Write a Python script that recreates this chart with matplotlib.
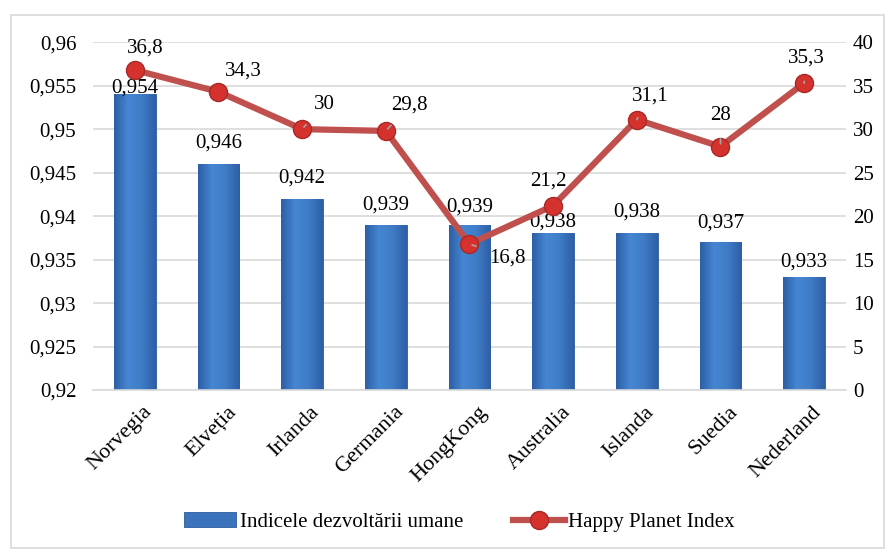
import numpy as np
import matplotlib.pyplot as plt
import matplotlib.transforms as mtrans
from matplotlib.patches import Rectangle
from matplotlib.colors import LinearSegmentedColormap

plt.rcParams['font.family'] = ['Liberation Serif', 'DejaVu Serif']

countries = ["Norvegia", "Elveția", "Irlanda", "Germania", "HongKong",
             "Australia", "Islanda", "Suedia", "Nederland"]
idu = [0.954, 0.946, 0.942, 0.939, 0.939, 0.938, 0.938, 0.937, 0.933]
hpi = [36.8, 34.3, 30, 29.8, 16.8, 21.2, 31.1, 28, 35.3]

# label offsets in pixels (centre of label relative to the point)
hpi_off = [(10, 22), (25, 21), (22, 25), (24, 26), (38, -14), (-5, 25), (13, 24), (0, 31), (2, 25)]
hpi_lead = [False, False, True, True, True, False, True, True, True]
idu_off = [6, 21, 21, 20, 18, 11, 21, 19, 15]

PX = 0.72  # points per pixel at 100 dpi
YMIN, YMAX = 0.92, 0.96


def fmt(v):
    return ("%g" % v).replace(".", ",")


fig = plt.figure(figsize=(8.89, 5.52), dpi=100)
fig.patches.append(Rectangle((0.012, 0.008), 0.982, 0.965, transform=fig.transFigure,
                             fill=False, edgecolor="#d9d9d9", linewidth=1.2))
ax = fig.add_axes([0.1046, 0.2935, 0.847, 0.630])
ax2 = ax.twinx()

x = list(range(len(countries)))
bars = ax.bar(x, idu, width=0.5, color="#3b74bd", edgecolor="#2c5c9c", linewidth=0.6,
              zorder=2, label="Indicele dezvoltării umane")

# horizontal shading on each bar (only the visible part above the axis floor)
cmap = LinearSegmentedColormap.from_list("bar", ["#2d5fa6", "#4686d2", "#3f7cc6", "#2d5fa6"])
grad = np.linspace(0, 1, 64).reshape(1, -1)
for b, v in zip(bars, idu):
    x0, w = b.get_x(), b.get_width()
    im = ax.imshow(grad, extent=[x0, x0 + w, YMIN, v],
                   aspect="auto", cmap=cmap, zorder=2.1)
    im.set_clip_path(b)

ax.set_ylim(YMIN, YMAX)
ax.set_xlim(-0.5, len(countries) - 0.5)
ax.set_yticks([YMIN + 0.005 * i for i in range(9)])
ax.set_yticklabels([fmt(round(YMIN + 0.005 * i, 3)) for i in range(9)])
ax.grid(axis="y", color="#d9d9d9", linewidth=1.2, zorder=0)
ax.set_axisbelow(True)
for s in ["top", "right", "left"]:
    ax.spines[s].set_visible(False)
    ax2.spines[s].set_visible(False)
ax.spines["bottom"].set_color("#d9d9d9")
ax.spines["bottom"].set_linewidth(1.2)
ax2.spines["bottom"].set_visible(False)
ax.tick_params(axis="y", length=0, labelsize=15, pad=12)
ax.tick_params(axis="x", length=0, labelsize=16, pad=9)
ax.set_xticks(x)
ax.set_xticklabels(countries, rotation=45, ha="right", rotation_mode="anchor")
shift = mtrans.ScaledTranslation(8 / 100, 0, fig.dpi_scale_trans)
for lab in ax.get_xticklabels():
    lab.set_transform(lab.get_transform() + shift)

for i, v in enumerate(idu):
    ax.annotate(fmt(v), (i, v), xytext=(0, idu_off[i] * PX), textcoords="offset points",
                ha="center", va="center", fontsize=15, zorder=3)

ax2.plot(x, hpi, color="#c0504d", linewidth=4.5, marker="o", markersize=13,
         markerfacecolor="#d5322e", markeredgecolor="#a52a28", markeredgewidth=1,
         zorder=4, label="Happy Planet Index")
ax2.set_ylim(0, 40)
ax2.set_yticks(range(0, 41, 5))
ax2.tick_params(axis="y", length=0, labelsize=15, pad=5)

for i, v in enumerate(hpi):
    off = (hpi_off[i][0] * PX, hpi_off[i][1] * PX)
    if hpi_lead[i]:
        ax2.annotate(fmt(v), (i, v), xytext=off, textcoords="offset points",
                     ha="center", va="center", fontsize=15, zorder=5,
                     arrowprops=dict(arrowstyle="-", color="#a6a6a6", lw=1.2, shrinkA=8, shrinkB=2))
    else:
        ax2.annotate(fmt(v), (i, v), xytext=off, textcoords="offset points",
                     ha="center", va="center", fontsize=15, zorder=5)

h1, l1 = ax.get_legend_handles_labels()
h2, l2 = ax2.get_legend_handles_labels()
fig.legend(h1 + h2, l1 + l2, loc="center", bbox_to_anchor=(0.517, 0.054), ncol=2,
           frameon=False, fontsize=15, handlelength=2.5, columnspacing=2.4, handletextpad=0.15)

fig.savefig("out.png", dpi=100)
